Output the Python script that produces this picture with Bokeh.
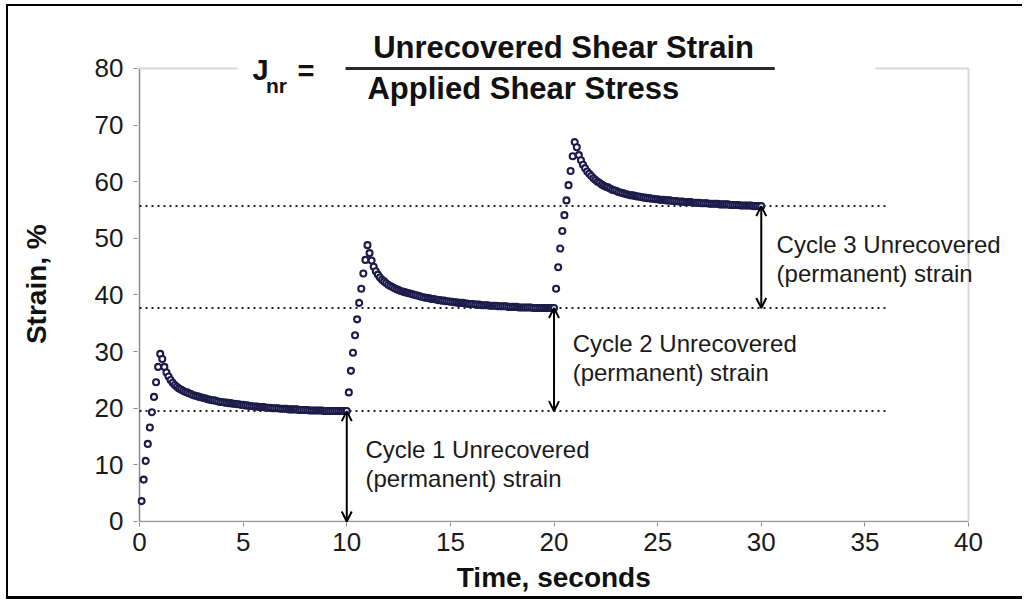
import math
from bokeh.plotting import figure
from bokeh.models import Range1d, FixedTicker, Label, Arrow, OpenHead
from bokeh.embed import file_html
from bokeh.resources import INLINE

# ---------------- data ----------------
cycle_starts = [0, 10, 20]
sample_step = 0.1

load_1 = [3.6, 7.4, 10.7, 13.7, 16.6, 19.3, 22.0, 24.6, 27.3, 29.6]
load_2 = [22.8, 26.6, 29.8, 32.9, 35.7, 38.6, 41.1, 43.8, 46.2, 48.8]
load_3 = [41.1, 44.9, 48.2, 51.3, 54.1, 56.7, 59.4, 61.9, 64.5, 67.0]

recovery_1 = [
    28.7, 27.3, 26.3, 25.6, 25.0, 24.5, 24.1, 23.8, 23.5, 23.3,
    23.1, 22.9, 22.8, 22.6, 22.5, 22.3, 22.2, 22.1, 22.0, 21.9,
    21.8, 21.7, 21.6, 21.5, 21.4, 21.4, 21.3, 21.2, 21.1, 21.1,
    21.0, 21.0, 20.9, 20.9, 20.8, 20.8, 20.7, 20.7, 20.6, 20.6,
    20.5, 20.5, 20.4, 20.4, 20.3, 20.3, 20.3, 20.2, 20.2, 20.2,
    20.1, 20.1, 20.1, 20.0, 20.0, 20.0, 20.0, 19.9, 19.9, 19.9,
    19.9, 19.8, 19.8, 19.8, 19.8, 19.8, 19.7, 19.7, 19.7, 19.7,
    19.7, 19.6, 19.6, 19.6, 19.6, 19.6, 19.6, 19.6, 19.5, 19.5,
    19.5, 19.5, 19.5, 19.5, 19.5, 19.5, 19.5, 19.5, 19.5, 19.5,
]
recovery_2 = [
    47.4, 46.1, 45.0, 44.2, 43.6, 43.1, 42.7, 42.4, 42.1, 41.8,
    41.6, 41.4, 41.2, 41.0, 40.9, 40.7, 40.6, 40.5, 40.4, 40.3,
    40.2, 40.1, 40.0, 39.9, 39.8, 39.7, 39.6, 39.5, 39.5, 39.4,
    39.3, 39.3, 39.2, 39.1, 39.1, 39.0, 39.0, 38.9, 38.9, 38.8,
    38.8, 38.7, 38.7, 38.6, 38.6, 38.6, 38.5, 38.5, 38.4, 38.4,
    38.4, 38.3, 38.3, 38.3, 38.2, 38.2, 38.2, 38.2, 38.1, 38.1,
    38.1, 38.1, 38.0, 38.0, 38.0, 38.0, 38.0, 37.9, 37.9, 37.9,
    37.9, 37.9, 37.8, 37.8, 37.8, 37.8, 37.8, 37.8, 37.8, 37.7,
    37.7, 37.7, 37.7, 37.7, 37.7, 37.7, 37.7, 37.7, 37.7, 37.7,
]
recovery_3 = [
    66.1, 64.7, 63.8, 63.0, 62.4, 61.8, 61.4, 61.0, 60.6, 60.3,
    60.0, 59.8, 59.5, 59.3, 59.1, 59.0, 58.8, 58.6, 58.5, 58.4,
    58.2, 58.1, 58.0, 57.9, 57.8, 57.7, 57.6, 57.6, 57.5, 57.4,
    57.4, 57.3, 57.2, 57.2, 57.1, 57.1, 57.0, 57.0, 56.9, 56.9,
    56.8, 56.8, 56.8, 56.7, 56.7, 56.7, 56.6, 56.6, 56.6, 56.5,
    56.5, 56.5, 56.4, 56.4, 56.4, 56.4, 56.3, 56.3, 56.3, 56.3,
    56.2, 56.2, 56.2, 56.2, 56.1, 56.1, 56.1, 56.1, 56.1, 56.0,
    56.0, 56.0, 56.0, 56.0, 55.9, 55.9, 55.9, 55.9, 55.9, 55.8,
    55.8, 55.8, 55.8, 55.8, 55.8, 55.7, 55.7, 55.7, 55.7, 55.7,
]

x_ticks = [0, 5, 10, 15, 20, 25, 30, 35, 40]
y_ticks = [0, 10, 20, 30, 40, 50, 60, 70, 80]

cycle_labels = ["Cycle 1 Unrecovered", "Cycle 2 Unrecovered", "Cycle 3 Unrecovered"]
cycle_sublabel = "(permanent) strain"

title_numerator = "Unrecovered Shear Strain"
title_denominator = "Applied Shear Stress"
x_title = "Time, seconds"
y_title = "Strain, %"

# ---------------- build series ----------------
loads = [load_1, load_2, load_3]
recs = [recovery_1, recovery_2, recovery_3]
xs, ys = [], []
for start, ld, rc in zip(cycle_starts, loads, recs):
    for k, v in enumerate(ld):
        xs.append(round(start + sample_step * (k + 1), 2))
        ys.append(v)
    for k, v in enumerate(rc):
        xs.append(round(start + len(ld) * sample_step + sample_step * (k + 1), 2))
        ys.append(v)

cycle_ends = [round(s + (len(l) + len(r)) * sample_step, 2) for s, l, r in zip(cycle_starts, loads, recs)]
permanent = [r[-1] for r in recs]
x_max, y_max = x_ticks[-1], y_ticks[-1]

FONT = "Liberation Sans"
NB = "\u00a0"

p = figure(width=1016, height=595, output_backend="svg", toolbar_location=None,
           x_range=Range1d(-0.0965, 42.70), y_range=Range1d(-0.177, 88.12),
           min_border_left=129, min_border_right=0, min_border_top=16, min_border_bottom=79,
           background_fill_color="white", border_fill_color="white")
p.styles = {"margin-left": "6px", "margin-top": "4px",
            "border-left": "2px solid #000", "border-top": "2px solid #000",
            "border-bottom": "3px solid #000"}
p.outline_line_color = None
p.xgrid.grid_line_color = None
p.ygrid.grid_line_color = None

for ax, ticks in ((p.xaxis, x_ticks), (p.yaxis, y_ticks)):
    ax.ticker = FixedTicker(ticks=ticks)
    ax.axis_line_color = None
    ax.major_tick_line_color = "#8a8a8a"
    ax.major_tick_out = 4
    ax.major_tick_in = 0
    ax.minor_tick_line_color = None
    ax.major_label_text_font = FONT
    ax.major_label_text_font_size = "26px"
    ax.major_label_text_color = "#1a1a1a"
    ax.axis_label_text_font = FONT
    ax.axis_label_text_font_size = "28px"
    ax.axis_label_text_font_style = "bold"
    ax.axis_label_text_color = "#111111"
p.xaxis.major_label_standoff = 6
p.yaxis.major_label_standoff = 10
p.xaxis.axis_label = x_title + NB * 7
p.xaxis.axis_label_standoff = 8
p.yaxis.axis_label = y_title + NB * 3
p.yaxis.axis_label_standoff = 40

# axis lines and light frame
p.segment(x0=[0], y0=[0], x1=[x_max], y1=[0], line_color="#9a9a9a", line_width=1.5)
p.segment(x0=[0], y0=[0], x1=[0], y1=[y_max], line_color="#8a8a8a", line_width=1.5)
p.segment(x0=[0, 35.5], y0=[y_max, y_max], x1=[4.73, x_max], y1=[y_max, y_max],
          line_color="#d8d8d8", line_width=2)
p.segment(x0=[x_max], y0=[0], x1=[x_max], y1=[y_max], line_color="#d8d8d8", line_width=2)

# dotted permanent-strain levels
p.segment(x0=[0] * 3, y0=permanent, x1=[36.1] * 3, y1=permanent,
          line_color="#222222", line_width=2, line_dash="2 4")

# data markers
p.scatter(xs, ys, marker="circle", size=6, line_color="#1e1b4b", line_width=2.1,
          fill_color="white")

# double arrows
lower = [0] + permanent[:-1]
for xe, top, bot in zip(cycle_ends, permanent, lower):
    p.add_layout(Arrow(x_start=xe, y_start=top, x_end=xe, y_end=bot,
                       line_color="black", line_width=2,
                       start=OpenHead(size=10, line_width=2, line_color="black"),
                       end=OpenHead(size=10, line_width=2, line_color="black")))

# annotation texts
ann_x = [10.9, 20.9, 30.74]
ann_y1 = [12.7, 31.4, 48.9]
ann_y2 = [7.6, 26.3, 43.8]
for lab, ax_, y1, y2 in zip(cycle_labels, ann_x, ann_y1, ann_y2):
    for t, yy in ((lab, y1), (cycle_sublabel, y2)):
        p.add_layout(Label(x=ax_, y=yy, text=t, text_font=FONT, text_font_size="24px",
                           text_color="#1a1a1a", text_baseline="middle", text_align="left"))

# J_nr formula
p.add_layout(Label(x=5.45, y=79.7, text="J", text_font=FONT, text_font_size="29px",
                   text_font_style="bold", text_color="#111111", text_baseline="middle"))
p.add_layout(Label(x=6.1, y=77.0, text="nr", text_font=FONT, text_font_size="21px",
                   text_font_style="bold", text_color="#111111", text_baseline="middle"))
p.add_layout(Label(x=7.62, y=79.5, text="=", text_font=FONT, text_font_size="29px",
                   text_font_style="bold", text_color="#111111", text_baseline="middle"))
p.add_layout(Label(x=20.46, y=83.7, text=title_numerator, text_font=FONT, text_font_size="31px",
                   text_font_style="bold", text_color="#111111", text_baseline="middle",
                   text_align="center"))
p.add_layout(Label(x=11.0, y=76.5, text=title_denominator, text_font=FONT, text_font_size="31px",
                   text_font_style="bold", text_color="#111111", text_baseline="middle",
                   text_align="left"))
p.segment(x0=[9.94], y0=[y_max], x1=[30.65], y1=[y_max], line_color="#2a2a2a", line_width=3)

open("out.html", "w").write(file_html(p, INLINE))
